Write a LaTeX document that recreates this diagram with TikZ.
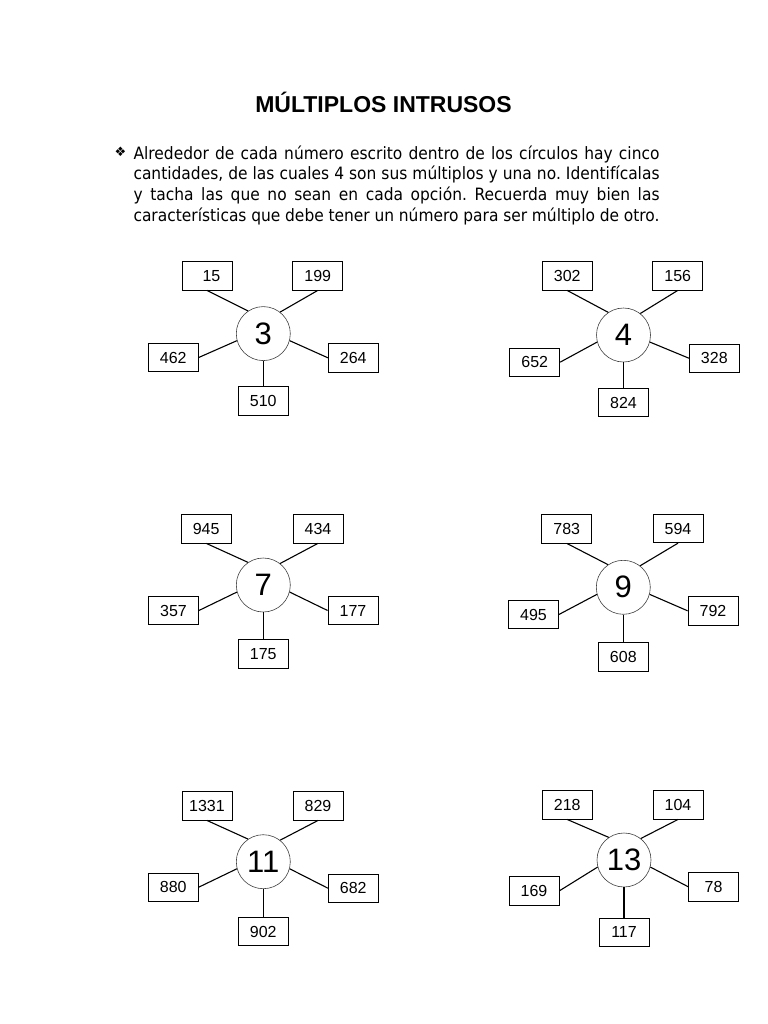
\documentclass[tikz,border=0pt]{standalone}
\usepackage{fontspec}
\setmainfont{Liberation Sans}
\newfontfamily\bodyfont[FakeStretch=0.91]{DejaVu Sans}
\newfontfamily\symfont{DejaVu Sans}
\frenchspacing
\begin{document}
\begin{tikzpicture}[x=1bp,y=-1bp,
  numbox/.style={draw, line width=0.8bp, minimum width=50bp, minimum height=28.5bp, inner sep=0pt, font=\fontsize{16bp}{19bp}\selectfont},
  ctr/.style={circle, draw=black!75, line width=0.6bp, minimum size=54bp, inner sep=0pt, font=\fontsize{31bp}{36bp}\selectfont},
  link/.style={draw, line width=1.1bp},
  bodyline/.style={anchor=base west, inner sep=0pt, font=\bodyfont\fontsize{17bp}{20bp}\selectfont}]
\useasboundingbox (0,0) rectangle (768,1024);

% title and instructions
\node[anchor=base, inner sep=0pt, font=\bfseries\fontsize{23bp}{27bp}\selectfont] (title) at (383.5,112.7) {MÚLTIPLOS INTRUSOS};
\node[inner sep=0pt, font=\symfont\fontsize{13bp}{15bp}\selectfont] (bul) at (120.5,152) {❖};
\node[bodyline] (l1) at (133.3,159.0) {\makebox[526bp][s]{Alrededor de cada número escrito dentro de los círculos hay cinco}};
\node[bodyline] (l2) at (133.3,179.7) {\makebox[526bp][s]{cantidades, de las cuales 4 son sus múltiplos y una no. Identifícalas}};
\node[bodyline] (l3) at (133.3,200.4) {\makebox[526bp][s]{y tacha las que no sean en cada opción. Recuerda muy bien las}};
\node[bodyline] (l4) at (133.3,221.1) {\makebox[526bp][s]{características que debe tener un número para ser múltiplo de otro.}};

% cluster 3
\node[ctr] (c3) at (263.3,333.6) {3};
\node[numbox] (a1) at (207,275.8) {\hphantom{1}15};
\node[numbox] (a2) at (317.7,275.8) {199};
\node[numbox] (a3) at (173.3,357.5) {462};
\node[numbox] (a4) at (353.3,357.8) {264};
\node[numbox] (a5) at (263.3,400.8) {510};
\draw[link] (a1.south) -- (c3.124);
\draw[link] (a2.south) -- (c3.52);
\draw[link] (a3.east) -- (c3.195);
\draw[link] (a4.west) -- (c3.345);
\draw[link] (c3.south) -- (a5.north);

% cluster 4
\node[ctr] (c4) at (623.5,335) {4};
\node[numbox] (b1) at (567.2,275.8) {302};
\node[numbox] (b2) at (677.7,275.8) {156};
\node[numbox] (b3) at (534.7,362.2) {652};
\node[numbox] (b4) at (714.3,358.2) {328};
\node[numbox] (b5) at (623.5,402.5) {824};
\draw[link] (b1.south) -- (c4.124);
\draw[link] (b2.south) -- (c4.52);
\draw[link] (b3.east) -- (c4.195);
\draw[link] (b4.west) -- (c4.345);
\draw[link] (c4.south) -- (b5.north);

% cluster 7
\node[ctr] (c7) at (263.3,585) {7};
\node[numbox] (d1) at (206.2,528.7) {945};
\node[numbox] (d2) at (318,528.7) {434};
\node[numbox] (d3) at (173.5,610.5) {357};
\node[numbox] (d4) at (353,610.5) {177};
\node[numbox] (d5) at (263.3,654) {175};
\draw[link] (d1.south) -- (c7.124);
\draw[link] (d2.south) -- (c7.52);
\draw[link] (d3.east) -- (c7.195);
\draw[link] (d4.west) -- (c7.345);
\draw[link] (c7.south) -- (d5.north);

% cluster 9
\node[ctr] (c9) at (623.3,587.3) {9};
\node[numbox] (e1) at (566.7,528.7) {783};
\node[numbox] (e2) at (678,528.5) {594};
\node[numbox] (e3) at (533.5,614.5) {495};
\node[numbox] (e4) at (713,610.8) {792};
\node[numbox] (e5) at (623.3,656.7) {608};
\draw[link] (e1.south) -- (c9.124);
\draw[link] (e2.south) -- (c9.52);
\draw[link] (e3.east) -- (c9.195);
\draw[link] (e4.west) -- (c9.345);
\draw[link] (c9.south) -- (e5.north);

% cluster 11
\node[ctr] (c11) at (263.3,861.7) {11};
\node[numbox] (f1) at (207,805.8) {1331};
\node[numbox] (f2) at (318,805.8) {829};
\node[numbox] (f3) at (173.3,887.2) {880};
\node[numbox] (f4) at (353.3,888.2) {682};
\node[numbox] (f5) at (263.3,931.5) {902};
\draw[link] (f1.south) -- (c11.124);
\draw[link] (f2.south) -- (c11.52);
\draw[link] (f3.east) -- (c11.195);
\draw[link] (f4.west) -- (c11.345);
\draw[link] (c11.south) -- (f5.north);

% cluster 13
\node[ctr] (c13) at (624,860) {13};
\node[numbox] (g1) at (567.2,804.8) {218};
\node[numbox] (g2) at (678,804.8) {104};
\node[numbox] (g3) at (534,890.8) {169};
\node[numbox] (g4) at (713.5,886.7) {78};
\node[numbox] (g5) at (624,932.2) {117};
\draw[link] (g1.south) -- (c13.124);
\draw[link] (g2.south) -- (c13.52);
\draw[link] (g3.east) -- (c13.195);
\draw[link] (g4.west) -- (c13.345);
\draw[link] (c13.south) -- (g5.north);
\end{tikzpicture}
\end{document}
